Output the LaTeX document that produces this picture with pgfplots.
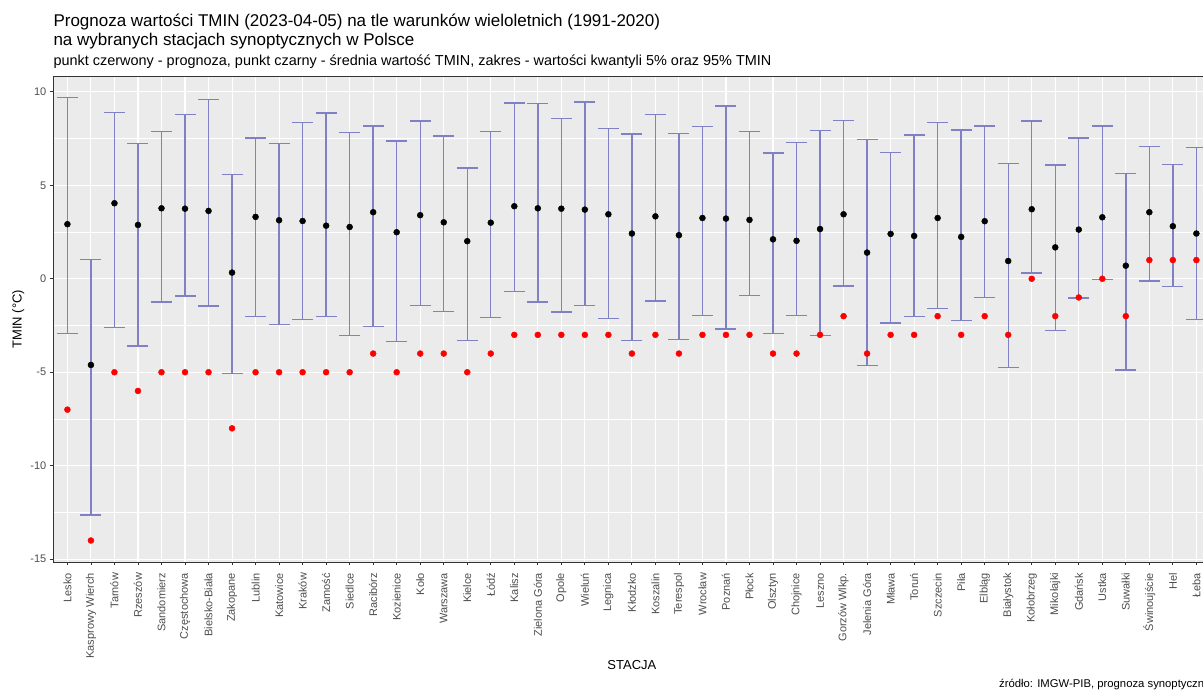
\documentclass[border=0pt]{standalone}
\usepackage{fontspec}
\setmainfont{Liberation Sans}
\usepackage{pgfplots}
\pgfplotsset{compat=1.18}
\usepackage{pgfplotstable}
\definecolor{panelbg}{HTML}{EBEBEB}
\definecolor{barc}{RGB}{128,128,196}
\definecolor{ticktxt}{HTML}{4D4D4D}
\definecolor{tickc}{HTML}{333333}

\pgfplotstableread{
x mean lo hi fc
1 2.92 -2.94 9.71 -7
2 -4.61 -12.63 1.04 -14
3 4.04 -2.60 8.88 -5
4 2.88 -3.60 7.23 -6
5 3.77 -1.24 7.89 -5
6 3.75 -0.92 8.79 -5
7 3.63 -1.46 9.59 -5
8 0.33 -5.08 5.59 -8
9 3.31 -2.03 7.52 -5
10 3.13 -2.46 7.23 -5
11 3.09 -2.19 8.36 -5
12 2.84 -2.01 8.86 -5
13 2.77 -3.04 7.84 -5
14 3.56 -2.55 8.18 -4
15 2.49 -3.35 7.36 -5
16 3.40 -1.44 8.43 -4
17 3.02 -1.76 7.63 -4
18 2.01 -3.31 5.93 -5
19 3.00 -2.08 7.89 -4
20 3.88 -0.67 9.41 -3
21 3.77 -1.24 9.38 -3
22 3.75 -1.78 8.57 -3
23 3.70 -1.44 9.46 -3
24 3.45 -2.13 8.05 -3
25 2.42 -3.31 7.75 -4
26 3.34 -1.19 8.80 -3
27 2.33 -3.26 7.77 -4
28 3.25 -1.96 8.13 -3
29 3.22 -2.69 9.25 -3
30 3.15 -0.89 7.89 -3
31 2.11 -2.92 6.72 -4
32 2.03 -1.98 7.29 -4
33 2.66 -3.04 7.94 -3
34 3.45 -0.39 8.48 -2
35 1.40 -4.65 7.45 -4
36 2.40 -2.37 6.75 -3
37 2.29 -2.03 7.70 -3
38 3.25 -1.58 8.36 -2
39 2.24 -2.22 7.96 -3
40 3.08 -0.99 8.18 -2
41 0.95 -4.74 6.15 -3
42 3.72 0.31 8.43 0
43 1.68 -2.78 6.09 -2
44 2.63 -1.03 7.52 -1
45 3.29 -0.05 8.18 0
46 0.70 -4.88 5.63 -2
47 3.56 -0.12 7.07 1
48 2.81 -0.42 6.11 1
49 2.42 -2.17 7.02 1
}\data

\begin{document}
\begin{tikzpicture}[x=1pt,y=1pt]
\begin{axis}[
  at={(53.3pt,131pt)}, anchor=south west,
  scale only axis, width=1157.2pt, height=485.5pt,
  xmin=0.4, xmax=49.6, ymin=-15.15, ymax=10.82,
  axis background/.style={fill=panelbg},
  axis line style={draw=tickc, line width=0.8pt},
  grid=both,
  major grid style={white, line width=1.1pt},
  minor grid style={white, line width=0.55pt},
  ytick={-15,-10,-5,0,5,10},
  yticklabels={-15,-10,-5,0,5,10},
  minor ytick={-12.5,-7.5,-2.5,2.5,7.5},
  minor tick length=0pt,
  xtick={1,...,49},
  xticklabels={Lesko,Kasprowy Wierch,Tarnów,Rzeszów,Sandomierz,Częstochowa,Bielsko-Biała,Zakopane,Lublin,Katowice,Kraków,Zamość,Siedlce,Racibórz,Kozienice,Koło,Warszawa,Kielce,Łódź,Kalisz,Zielona Góra,Opole,Wieluń,Legnica,Kłodzko,Koszalin,Terespol,Wrocław,Poznań,Płock,Olsztyn,Chojnice,Leszno,Gorzów Wlkp.,Jelenia Góra,Mława,Toruń,Szczecin,Piła,Elbląg,Białystok,Kołobrzeg,Mikołajki,Gdańsk,Ustka,Suwałki,Świnoujście,Hel,Łeba},
  tick align=outside, major tick length=3.5pt,
  tick style={tickc, line width=0.8pt},
  tick pos=left,
  ticklabel style={font=\fontsize{11}{13}\selectfont, text=ticktxt},
  xticklabel style={yshift=-4pt, rotate=90, anchor=east},
  xlabel={STACJA},
  ylabel={TMIN (°C)},
  xlabel style={font=\fontsize{13}{15}\selectfont, at={(axis description cs:0.5,0)}, anchor=center, yshift=-103pt},
  ylabel style={font=\fontsize{13}{15}\selectfont, at={(axis description cs:-0.0303,0.5)}, anchor=center},
]
\addplot[barc, line width=1.4pt, only marks, mark=none,
  error bars/.cd, y dir=both, y explicit,
  error bar style={draw=barc, line width=1.4pt},
  error mark options={draw=barc, line width=1.4pt, mark size=10.5pt, rotate=90}]
  table[x=x, y=mean, y error plus expr=\thisrow{hi}-\thisrow{mean}, y error minus expr=\thisrow{mean}-\thisrow{lo}] {\data};
\addplot[only marks, mark=*, mark size=3pt, mark options={fill=black, draw=black}] table[x=x, y=mean] {\data};
\addplot[only marks, mark=*, mark size=3pt, mark options={fill=red, draw=red}] table[x=x, y=fc] {\data};
\end{axis}
\node[anchor=base west, inner sep=0pt, font=\fontsize{17}{20}\selectfont] at (53.3,666) {Prognoza wartości TMIN (2023-04-05) na tle warunków wieloletnich (1991-2020)};
\node[anchor=base west, inner sep=0pt, font=\fontsize{17}{20}\selectfont] at (53.3,647.5) {na wybranych stacjach synoptycznych w Polsce};
\node[anchor=base west, inner sep=0pt, font=\fontsize{14.45}{17}\selectfont] at (53.3,627) {punkt czerwony - prognoza, punkt czarny - średnia wartość TMIN, zakres - wartości kwantyli 5\% oraz 95\% TMIN};
\node[anchor=base west, inner sep=0pt, font=\fontsize{11.3}{13}\selectfont] at (999,5) {źródło: IMGW-PIB, prognoza synoptyczna};
\pgfresetboundingbox
\useasboundingbox (0,0) rectangle (1203,693);
\end{tikzpicture}
\end{document}
